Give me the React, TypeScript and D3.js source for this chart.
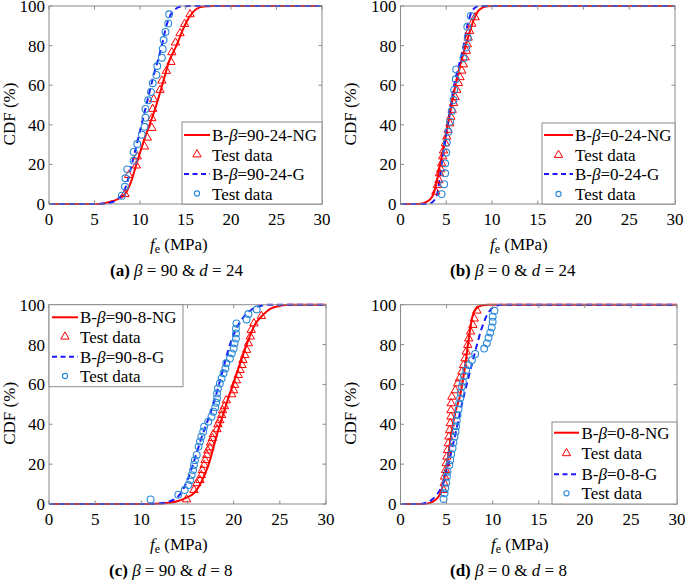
import React from 'react';
import * as d3 from 'd3';

type Pt = [number, number];

const xTicks = [0, 5, 10, 15, 20, 25, 30];
const yTicks = [0, 20, 40, 60, 80, 100];

// ---- Panel (a): beta = 90, d = 24 ----
const fitA_NG: Pt[] = [[0,0],[5,0],[6,0.3],[7,1.5],[8,3.5],[8.35,5],[9,11],[9.6,20],[10.5,33],[11.8,50],[12.5,61],[13.2,72],[14,80],[14.8,89],[15.5,95],[16.2,98.5],[17,99.7],[18,100],[30,100]];
const fitA_G: Pt[] = [[0,0],[5,0],[6,0.2],[7,1],[7.5,2.5],[8.1,5],[8.6,11],[9.1,20],[9.9,35],[10.7,50],[11.5,65],[12.4,80],[12.9,90],[13.3,95],[13.9,98.5],[14.6,99.8],[15.5,100],[30,100]];
const testA_NG: Pt[] = [[8.35,5],[8.75,14.6],[9.6,19.4],[9.7,24],[10.5,29],[10.8,33.5],[11.3,38.4],[11.3,43.3],[11.4,48],[11.5,52.9],[12.2,57.6],[12.4,62.3],[12.9,67.2],[13.4,71.7],[13.5,76.6],[13.9,81.5],[14.4,86.2],[14.9,90.9],[15.5,95.8]];
const testA_G: Pt[] = [[8.0,4.2],[8.35,8.8],[8.4,13],[8.6,17.5],[9.3,21.9],[9.3,26.3],[9.7,30.3],[10.2,35],[10.5,39],[10.6,43.6],[10.6,48],[10.9,52.4],[11.2,56.6],[11.4,61],[11.8,65.2],[11.9,69.7],[12.4,73.9],[12.5,78.3],[12.6,82.8],[12.8,86.9],[13.1,91.2],[13.2,95.8]];

// ---- Panel (b): beta = 0, d = 24 ----
const fitB_NG: Pt[] = [[0,0],[2,0],[2.5,0.4],[3,1.5],[3.3,2.7],[3.6,5],[3.9,10],[4.2,17],[4.6,26],[5,36],[5.5,48],[6,60],[6.5,70],[7,78],[7.5,86],[8,93],[8.5,97.5],[9,99.3],[9.5,99.9],[10,100],[30,100]];
const fitB_G: Pt[] = [[0,0],[3,0],[3.5,1],[4,5],[4.5,20],[5,35],[5.5,50],[6,63],[6.5,72],[6.9,80],[7.3,90],[7.6,95],[8.1,99],[8.6,100],[30,100]];
const testB_NG: Pt[] = [[3.86,6.2],[4.04,9.6],[4.2,12],[4.26,15.5],[4.4,17.5],[4.5,20.5],[4.6,24],[4.7,27],[4.9,30.6],[5.06,34],[5.2,37.4],[5.4,40.7],[5.5,44],[5.65,47.5],[5.8,51],[5.96,54],[6.15,57.6],[6.33,61],[6.5,64],[6.7,67.3],[6.88,70.5],[7.06,74],[7.2,77.3],[7.3,80.6],[7.4,84],[7.55,87.4],[7.8,91],[8.15,94.3]];
const testB_G: Pt[] = [[4.5,5],[4.77,10],[4.88,15.5],[4.88,20.5],[5.0,26],[5.06,31],[5.24,36.5],[5.42,41.6],[5.6,47],[5.8,52.5],[5.86,57.6],[6.04,63],[6.08,68],[6.88,73.6],[7.17,79],[7.35,84],[7.3,89.5],[7.68,95]];

// ---- Panel (c): beta = 90, d = 8 ----
const fitC_NG: Pt[] = [[0,0],[11,0],[12,0.2],[13,0.6],[14,1.5],[15,3.5],[15.6,5],[16.5,11],[17.3,20],[18.2,35],[19.2,50],[20.3,65],[21.4,80],[22.3,90],[23.2,95],[24,98],[25,99.5],[26,100],[30,100]];
const fitC_G: Pt[] = [[0,0],[11,0],[12,0.3],[13,1.2],[14.2,5],[15,12],[15.6,20],[16.5,33],[17.8,50],[18.7,65],[19.6,80],[20.4,89],[21.3,95],[22.2,98.3],[23,99.5],[24,100],[30,100]];
const testC_NG: Pt[] = [[14.9,2.3],[15.7,7],[16.0,10.4],[16.35,12],[16.5,14.5],[16.6,17],[16.8,19.6],[16.9,22],[17.1,24.6],[17.2,26.8],[17.4,28.4],[17.5,30.8],[17.7,33],[17.8,35],[18.2,37.5],[18.3,40],[18.5,42],[18.7,44.6],[18.8,47],[19.0,49],[19.2,52],[19.8,55],[20.0,57],[20.1,59.7],[20.3,62],[20.5,64.7],[20.7,67.2],[20.9,69.7],[21.0,72.2],[21.2,74.7],[21.4,77.3],[21.6,80.6],[21.8,84],[21.9,87.3],[22.2,90.6],[23.0,94.3]];
const testC_G: Pt[] = [[11.0,2.3],[14.0,4.7],[14.7,7],[15.1,9.5],[15.3,12],[15.45,14.5],[15.6,17],[15.7,19.6],[15.8,22],[16.0,24.6],[16.2,28.8],[16.35,31.3],[16.5,33.8],[16.7,36.3],[16.8,38.8],[17.25,41.3],[17.6,43.8],[17.8,46.3],[18.0,48.5],[18.1,50.8],[18.2,53],[18.2,55.5],[18.3,58],[18.5,60.5],[18.7,63],[18.9,65.6],[19.1,68],[19.2,70.6],[19.6,73],[19.8,75.6],[20.0,78],[20.1,80.6],[20.25,83],[20.25,85.6],[20.25,88],[20.3,90.6],[21.4,92.6],[21.6,95.3],[22.5,97.6]];

// ---- Panel (d): beta = 0, d = 8 ----
const fitD_NG: Pt[] = [[0,0],[2.5,0],[3,0.3],[3.5,1.2],[4,3],[4.4,6],[4.8,14],[5.1,22],[5.5,35],[6,47],[6.5,55],[7,69],[7.5,86],[7.8,94],[8.2,98],[8.8,99.6],[9.5,100],[30,100]];
const fitD_G: Pt[] = [[0,0],[2,0],[2.5,0.3],[3,1],[3.5,2.5],[4,5],[4.5,9],[5,16],[5.5,26],[6,36],[6.66,50],[7.4,64],[7.85,72],[8.3,80],[8.8,88],[9.3,94],[9.7,97],[10.3,99.3],[11,100],[30,100]];
const testD_NG: Pt[] = [[4.67,7],[4.74,10.4],[4.78,13.7],[4.89,17],[4.96,20.4],[5.03,23.7],[5.1,27],[5.18,30.4],[5.25,33.8],[5.32,37],[5.4,40.5],[5.47,43.8],[5.47,47],[5.5,50.5],[5.57,53.8],[5.94,57],[6.2,60.5],[6.4,63],[6.66,66.4],[6.84,69.7],[7.0,73],[7.13,76.4],[7.3,79.8],[7.4,83],[7.6,86.5],[7.85,89.8],[8.0,93],[8.3,97]];
const testD_G: Pt[] = [[4.67,2.5],[4.78,5.4],[4.85,7.9],[4.96,10.7],[5.03,13.7],[5.1,16.2],[5.3,19.6],[5.4,22],[5.5,25],[5.65,28],[5.75,30.8],[5.86,33.8],[5.97,36.3],[6.04,39],[6.1,41.8],[6.2,44.6],[6.3,47.5],[6.37,50.5],[6.48,53],[6.55,55.8],[6.66,58.9],[6.77,61.4],[6.9,64.2],[7.13,67.2],[7.38,69.7],[7.75,72.2],[8.1,75.3],[9.08,78],[9.37,80.6],[9.55,83.4],[9.74,86],[9.9,88.6],[10.0,91.5],[10.0,94],[10.2,97]];

const RED = '#ff0000';
const BLUE = '#1a1aff';
const CIRC = '#2a88d8';
const FRAME = '#8a8a8a';
const FONT = 'Liberation Serif, Times New Roman, DejaVu Serif, serif';
const FS = 17;

interface PanelCfg {
  key: string;
  left: number; right: number; top: number; bottom: number;
  fitNG: Pt[]; fitG: Pt[]; testNG: Pt[]; testG: Pt[];
  leg: { x: number; y: number; w: number; h: number; lx0: number; lx1: number; tx: number; rows: number[] };
  names: [string, string];
  capX: number; capLetter: string; capBeta: string; capD: string;
  xlabX: number; ylabX: number;
}

const panels: PanelCfg[] = [
  {
    key: 'a', left: 49, right: 322, top: 6, bottom: 204,
    fitNG: fitA_NG, fitG: fitA_G, testNG: testA_NG, testG: testA_G,
    leg: { x: 182, y: 122, w: 140, h: 82, lx0: 184, lx1: 210, tx: 212, rows: [135, 154.5, 174, 193.5] },
    names: ['90-24-NG', '90-24-G'],
    capX: 110, capLetter: '(a)', capBeta: ' = 90 & ', capD: ' = 24', xlabX: 150, ylabX: 15,
  },
  {
    key: 'b', left: 400.5, right: 675, top: 6, bottom: 204,
    fitNG: fitB_NG, fitG: fitB_G, testNG: testB_NG, testG: testB_G,
    leg: { x: 542, y: 123, w: 133, h: 81, lx0: 544, lx1: 573, tx: 575, rows: [135, 155, 174, 194] },
    names: ['0-24-NG', '0-24-G'],
    capX: 450, capLetter: '(b)', capBeta: ' = 0 & ', capD: ' = 24', xlabX: 490, ylabX: 356,
  },
  {
    key: 'c', left: 49, right: 326, top: 304.7, bottom: 504,
    fitNG: fitC_NG, fitG: fitC_G, testNG: testC_NG, testG: testC_G,
    leg: { x: 49, y: 304.7, w: 134, h: 82, lx0: 52, lx1: 78, tx: 80, rows: [317.3, 336.7, 356.7, 376] },
    names: ['90-8-NG', '90-8-G'],
    capX: 109, capLetter: '(c)', capBeta: ' = 90 & ', capD: ' = 8', xlabX: 150, ylabX: 15,
  },
  {
    key: 'd', left: 400.5, right: 677, top: 304.7, bottom: 504,
    fitNG: fitD_NG, fitG: fitD_G, testNG: testD_NG, testG: testD_G,
    leg: { x: 552, y: 422, w: 125, h: 82, lx0: 554, lx1: 579, tx: 581.5, rows: [432.7, 453.3, 474.3, 493.3] },
    names: ['0-8-NG', '0-8-G'],
    capX: 450, capLetter: '(d)', capBeta: ' = 0 & ', capD: ' = 8', xlabX: 491, ylabX: 356,
  },
];

const triPath = d3.symbol().type(d3.symbolTriangle).size(30)() as string;
const txt: React.CSSProperties = { fontFamily: FONT, fontSize: FS + 'px' };

function Panel({ p }: { p: PanelCfg }) {
  const x = d3.scaleLinear().domain([0, 30]).range([p.left, p.right]);
  const y = d3.scaleLinear().domain([0, 100]).range([p.bottom, p.top]);
  const line = d3.line<Pt>().x(d => x(d[0])).y(d => y(d[1])).curve(d3.curveMonotoneX);
  const tick = 3.5;
  const midY = (p.top + p.bottom) / 2 + 9;
  return (
    <g>
      <path d={line(p.fitNG) || ''} fill="none" stroke={RED} strokeWidth={2} />
      <path d={line(p.fitG) || ''} fill="none" stroke={BLUE} strokeWidth={2} strokeDasharray="6,4" />
      {p.testNG.map((d, i) => (
        <path key={'t' + i} d={triPath} transform={`translate(${x(d[0])},${y(d[1])})`} fill="none" stroke={RED} strokeWidth={1} />
      ))}
      {p.testG.map((d, i) => (
        <circle key={'c' + i} cx={x(d[0])} cy={y(d[1])} r={3.4} fill="none" stroke={CIRC} strokeWidth={1.1} />
      ))}
      <rect x={p.left} y={p.top} width={p.right - p.left} height={p.bottom - p.top} fill="none" stroke={FRAME} strokeWidth={1} />
      {xTicks.map(t => (
        <g key={'xt' + t}>
          <line x1={x(t)} x2={x(t)} y1={p.bottom} y2={p.bottom - tick} stroke={FRAME} />
          <line x1={x(t)} x2={x(t)} y1={p.top} y2={p.top + tick} stroke={FRAME} />
          <text x={x(t)} y={p.bottom + 20.5} textAnchor="middle" style={txt} fill="#000">{t}</text>
        </g>
      ))}
      {yTicks.map(t => (
        <g key={'yt' + t}>
          <line x1={p.left} x2={p.left + tick} y1={y(t)} y2={y(t)} stroke={FRAME} />
          <line x1={p.right} x2={p.right - tick} y1={y(t)} y2={y(t)} stroke={FRAME} />
          <text x={p.left - 4} y={y(t) + 6} textAnchor="end" style={txt} fill="#000">{t}</text>
        </g>
      ))}
      <text transform={`translate(${p.ylabX},${midY}) rotate(-90)`} textAnchor="middle" style={txt} fill="#000">CDF (%)</text>
      <text x={p.xlabX} y={p.bottom + 46} style={txt} fill="#000">
        <tspan fontStyle="italic">f</tspan>
        <tspan style={{ fontSize: '12px' }} dy={3}>e</tspan>
        <tspan dy={-3}> (MPa)</tspan>
      </text>
      <text x={p.capX} y={p.bottom + 72} style={txt} fill="#000">
        <tspan fontWeight="bold">{p.capLetter}</tspan>
        <tspan> </tspan>
        <tspan fontStyle="italic">β</tspan>
        <tspan>{p.capBeta}</tspan>
        <tspan fontStyle="italic">d</tspan>
        <tspan>{p.capD}</tspan>
      </text>
      <rect x={p.leg.x} y={p.leg.y} width={p.leg.w} height={p.leg.h} fill="#fff" stroke={FRAME} strokeWidth={1} />
      <line x1={p.leg.lx0} x2={p.leg.lx1} y1={p.leg.rows[0]} y2={p.leg.rows[0]} stroke={RED} strokeWidth={2} />
      <path d={triPath} transform={`translate(${(p.leg.lx0 + p.leg.lx1) / 2},${p.leg.rows[1]})`} fill="none" stroke={RED} strokeWidth={1} />
      <line x1={p.leg.lx0} x2={p.leg.lx1} y1={p.leg.rows[2]} y2={p.leg.rows[2]} stroke={BLUE} strokeWidth={2} strokeDasharray="5,3.5" />
      <circle cx={(p.leg.lx0 + p.leg.lx1) / 2} cy={p.leg.rows[3]} r={2.6} fill="none" stroke={CIRC} strokeWidth={1.1} />
      {[0, 1, 2, 3].map(i => (
        <text key={'lg' + i} x={p.leg.tx} y={p.leg.rows[i] + 6} style={txt} fill="#000">
          {i % 2 === 1 ? 'Test data' : (
            <>
              <tspan>B-</tspan>
              <tspan fontStyle="italic">β</tspan>
              <tspan>={i === 0 ? p.names[0] : p.names[1]}</tspan>
            </>
          )}
        </text>
      ))}
    </g>
  );
}

export default function App() {
  return (
    <svg width={685} height={581} style={{ position: 'absolute', left: 0, top: 0, background: '#fff' }}>
      <rect x={0} y={0} width={685} height={581} fill="#fff" />
      {panels.map(p => <Panel key={p.key} p={p} />)}
    </svg>
  );
}
